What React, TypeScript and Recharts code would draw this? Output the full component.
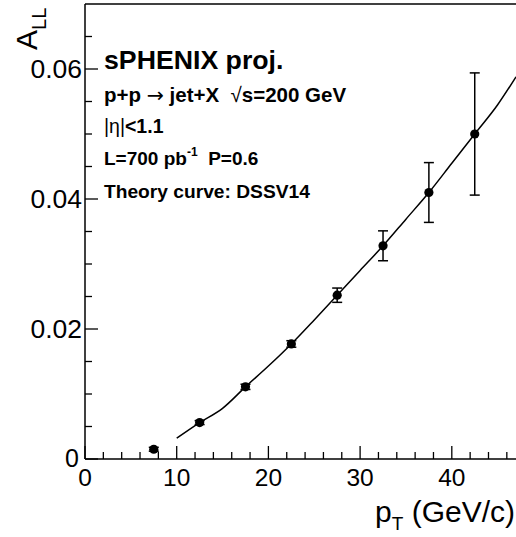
import React from 'react';
import {
  ComposedChart,
  Line,
  Scatter,
  ErrorBar,
  XAxis,
  YAxis,
  ReferenceLine,
} from 'recharts';

// projected points (pT bin centres, A_LL, stat. error)
const ptBins = [7.5, 12.5, 17.5, 22.5, 27.5, 32.5, 37.5, 42.5];
const allValues = [0.0015, 0.0056, 0.0111, 0.0177, 0.0252, 0.0328, 0.041, 0.05];
const allErrors = [0.0003, 0.0003, 0.0004, 0.0005, 0.0011, 0.0023, 0.0046, 0.0094];

// DSSV14 theory curve
const theoryPt = [10, 12.5, 15, 17.5, 20, 22.5, 25, 27.5, 30, 32.5, 35, 37.5, 40, 42.5, 45, 47];
const theoryAll = [
  0.0032, 0.0056, 0.0078, 0.0111, 0.0143, 0.0177, 0.0214, 0.0252, 0.029, 0.0328, 0.0369, 0.041,
  0.0455, 0.05, 0.0545, 0.0588,
];

const xMajorTicks = [0, 10, 20, 30, 40];
const xMinorTicks = [2, 4, 6, 8, 12, 14, 16, 18, 22, 24, 26, 28, 32, 34, 36, 38, 42, 44, 46];
const yMajorTicks = [0, 0.02, 0.04, 0.06];
const yMinorTicks = [0.005, 0.01, 0.015, 0.025, 0.03, 0.035, 0.045, 0.05, 0.055, 0.065];

const points = ptBins.map((x, i) => ({ x, y: allValues[i], err: allErrors[i] }));
const theory = theoryPt.map((x, i) => ({ x, y: theoryAll[i] }));

const FONT = '"Liberation Sans", Arial, Helvetica, sans-serif';
const pre = { whiteSpace: 'pre' as const };

const XTick = (props: any) => {
  const { x, y, payload } = props;
  const major = xMajorTicks.includes(payload.value);
  return (
    <g>
      <line x1={x} x2={x} y1={y} y2={y - (major ? 13 : 7)} stroke="#000" strokeWidth={1.3} />
      {major && (
        <text x={x} y={y + 27} textAnchor="middle" fontSize={24.5} fontFamily={FONT} fill="#000">
          {payload.value}
        </text>
      )}
    </g>
  );
};

const YTick = (props: any) => {
  const { x, y, payload } = props;
  const major = yMajorTicks.includes(payload.value);
  const zero = payload.value === 0;
  return (
    <g>
      <line x1={x} x2={x + (major ? 13 : 7)} y1={y} y2={y} stroke="#000" strokeWidth={1.3} />
      {major && (
        <text
          x={x - (zero ? 6 : 3)}
          y={y + (zero ? 7.5 : 8.5)}
          textAnchor="end"
          fontSize={zero ? 25 : 26.5}
          fontFamily={FONT}
          fill="#000"
        >
          {zero ? '0' : payload.value.toFixed(2)}
        </text>
      )}
    </g>
  );
};

const Dot = (props: any) => {
  const { cx, cy } = props;
  return <circle cx={cx} cy={cy} r={4.6} fill="#000" />;
};

export default function App() {
  return (
    <div style={{ position: 'absolute', left: 0, top: 0, width: 516, height: 537, background: '#fff', overflow: 'hidden' }}>
      <ComposedChart width={516} height={537} margin={{ top: 4, right: 0, bottom: 0, left: 0 }}>
        <XAxis
          type="number"
          dataKey="x"
          domain={[0, 47]}
          ticks={[...xMajorTicks, ...xMinorTicks].sort((a, b) => a - b)}
          interval={0}
          tickSize={0}
          tickMargin={0}
          tick={<XTick />}
          axisLine={{ stroke: '#000', strokeWidth: 1.5 }}
          height={78}
          allowDataOverflow
        />
        <YAxis
          type="number"
          dataKey="y"
          domain={[0, 0.07]}
          ticks={[...yMajorTicks, ...yMinorTicks].sort((a, b) => a - b)}
          interval={0}
          tickSize={0}
          tickMargin={0}
          tick={<YTick />}
          axisLine={{ stroke: '#000', strokeWidth: 1.5 }}
          width={85}
          allowDataOverflow
        />
        <ReferenceLine y={0.07} stroke="#000" strokeWidth={1.5} />
        <Line
          data={theory}
          dataKey="y"
          type="monotone"
          stroke="#000"
          strokeWidth={1.5}
          dot={false}
          activeDot={false}
          isAnimationActive={false}
        />
        <Scatter data={points} dataKey="y" shape={<Dot />} isAnimationActive={false}>
          <ErrorBar dataKey="err" direction="y" width={5} stroke="#000" strokeWidth={1.5} />
        </Scatter>

        {/* annotation block */}
        <text x={104} y={69} fontSize={26.7} fontWeight="bold" fontFamily={FONT} fill="#000">
          sPHENIX proj.
        </text>
        <text x={104} y={102} fontSize={20.5} fontWeight="bold" fontFamily={FONT} fill="#000" xmlSpace="preserve" style={pre}>
          {'p+p '}
          <tspan fontWeight="normal" fontFamily="DejaVu Sans">→</tspan>
          {' jet+X  '}
          <tspan fontWeight="normal">√</tspan>
          {'s=200 GeV'}
        </text>
        <text x={104} y={133} fontSize={19.5} fontWeight="bold" fontFamily={FONT} fill="#000">
          <tspan fontWeight="normal">|η|</tspan>&lt;1.1
        </text>
        <text x={104} y={165} fontSize={19} fontWeight="bold" fontFamily={FONT} fill="#000" xmlSpace="preserve" style={pre}>
          {'L=700 pb'}
          <tspan fontSize={12} dy={-9}>-1</tspan>
          <tspan dy={9}>{'  P=0.6'}</tspan>
        </text>
        <text x={104} y={198} fontSize={19.2} fontWeight="bold" fontFamily={FONT} fill="#000">
          Theory curve: DSSV14
        </text>

        {/* axis titles */}
        <text x={515} y={522} textAnchor="end" fontSize={30} fontFamily={FONT} fill="#000" xmlSpace="preserve" style={pre}>
          p<tspan fontSize={19} dy={8}>T</tspan>
          <tspan dy={-8}>{' (GeV/c)'}</tspan>
        </text>
        <text transform="translate(37,50) rotate(-90)" fontSize={30} fontFamily={FONT} fill="#000">
          A<tspan fontSize={20} dy={9}>LL</tspan>
        </text>
      </ComposedChart>
    </div>
  );
}
